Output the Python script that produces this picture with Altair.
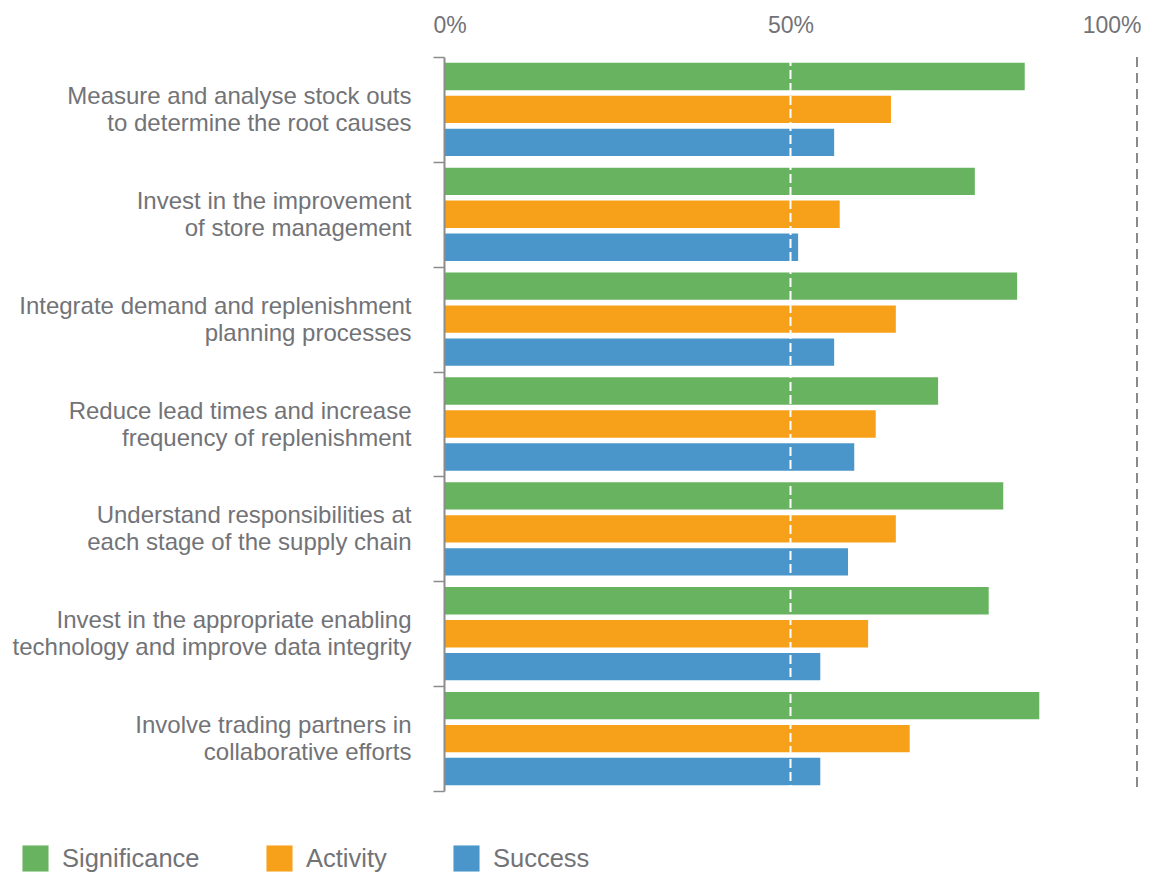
import altair as alt
import pandas as pd

categories = [
    "Measure and analyse stock outs\nto determine the root causes",
    "Invest in the improvement\nof store management",
    "Integrate demand and replenishment\nplanning processes",
    "Reduce lead times and increase\nfrequency of replenishment",
    "Understand responsibilities at\neach stage of the supply chain",
    "Invest in the appropriate enabling\ntechnology and improve data integrity",
    "Involve trading partners in\ncollaborative efforts",
]
series = ["Significance", "Activity", "Success"]
significance = [83.8, 76.6, 82.7, 71.3, 80.7, 78.6, 85.9]
activity = [64.5, 57.1, 65.2, 62.3, 65.2, 61.2, 67.2]
success = [56.3, 51.1, 56.3, 59.2, 58.3, 54.3, 54.3]
colors = ["#67b35f", "#f7a11b", "#4a96ca"]
tick_values = [0, 50, 100]
ref_lines = [50, 100]

rows = []
for i, c in enumerate(categories):
    for s, vals in zip(series, [significance, activity, success]):
        rows.append({"category": c, "series": s, "value": vals[i]})
df = pd.DataFrame(rows)

FONT = "Liberation Sans"
GRAY = "#727377"
AXIS_GRAY = "#8c8c8c"

bars = alt.Chart(df).mark_bar().encode(
    x=alt.X(
        "value:Q",
        scale=alt.Scale(domain=[0, 100], nice=False, zero=True),
        axis=alt.Axis(
            orient="top",
            values=tick_values,
            labelExpr="datum.value + '%'",
            domain=False,
            ticks=False,
            grid=False,
            labelFont=FONT,
            labelFontSize=23,
            labelColor=GRAY,
            labelBaseline="alphabetic",
            labelPadding=25,
            labelFlush=False,
            labelAlign={"expr": "datum.value == 0 ? 'left' : (datum.value == 100 ? 'right' : 'center')"},
            labelOffset={"expr": "datum.value == 0 ? -11 : (datum.value == 100 ? 4 : 0)"},
            title=None,
        ),
    ),
    y=alt.Y(
        "category:N",
        sort=categories,
        scale=alt.Scale(paddingInner=0, paddingOuter=0),
        axis=alt.Axis(
            title=None,
            domain=True,
            domainColor=AXIS_GRAY,
            domainWidth=2,
            ticks=True,
            tickSize=11,
            tickColor=AXIS_GRAY,
            tickWidth=1.5,
            tickBand="extent",
            labelExpr="split(datum.label, '\\n')",
            labelFont=FONT,
            labelFontSize=24,
            labelColor=GRAY,
            labelLineHeight=27,
            labelPadding=22,
            labelOffset=-13,
            labelLimit=600,
            labelAlign="right",
            labelBaseline="middle",
            grid=False,
            zindex=2,
        ),
    ),
    yOffset=alt.YOffset(
        "series:N",
        sort=series,
        scale=alt.Scale(paddingInner=0.17, paddingOuter=0.175),
    ),
    color=alt.Color(
        "series:N",
        scale=alt.Scale(domain=series, range=colors),
        legend=alt.Legend(
            title=None,
            orient="none",
            direction="horizontal",
            legendX=-422,
            legendY=788,
            symbolType="square",
            symbolSize=680,
            symbolStrokeWidth=0,
            symbolOpacity=1,
            labelFont=FONT,
            labelFontSize=25.5,
            labelColor=GRAY,
            labelOffset=13,
            columnPadding=66,
            padding=0,
        ),
    ),
)

rules_df = pd.DataFrame({"x": ref_lines, "kind": ["mid", "end"]})

mid_rule = alt.Chart(rules_df[rules_df.kind == "mid"]).mark_rule(
    color="white", strokeDash=[9, 4], strokeWidth=2
).encode(x="x:Q")

end_rule = alt.Chart(rules_df[rules_df.kind == "end"]).mark_rule(
    color="#8a8a8a", strokeDash=[10, 6], strokeWidth=2
).encode(x="x:Q")

chart = alt.layer(bars, mid_rule, end_rule).properties(
    width=693,
    height=734,
    autosize=alt.AutoSizeParams(type="none"),
    padding={"left": 436, "top": 49, "right": 4, "bottom": 90},
).configure_view(stroke=None)

chart.save("out.html", embed_options={"renderer": "svg", "actions": False})
